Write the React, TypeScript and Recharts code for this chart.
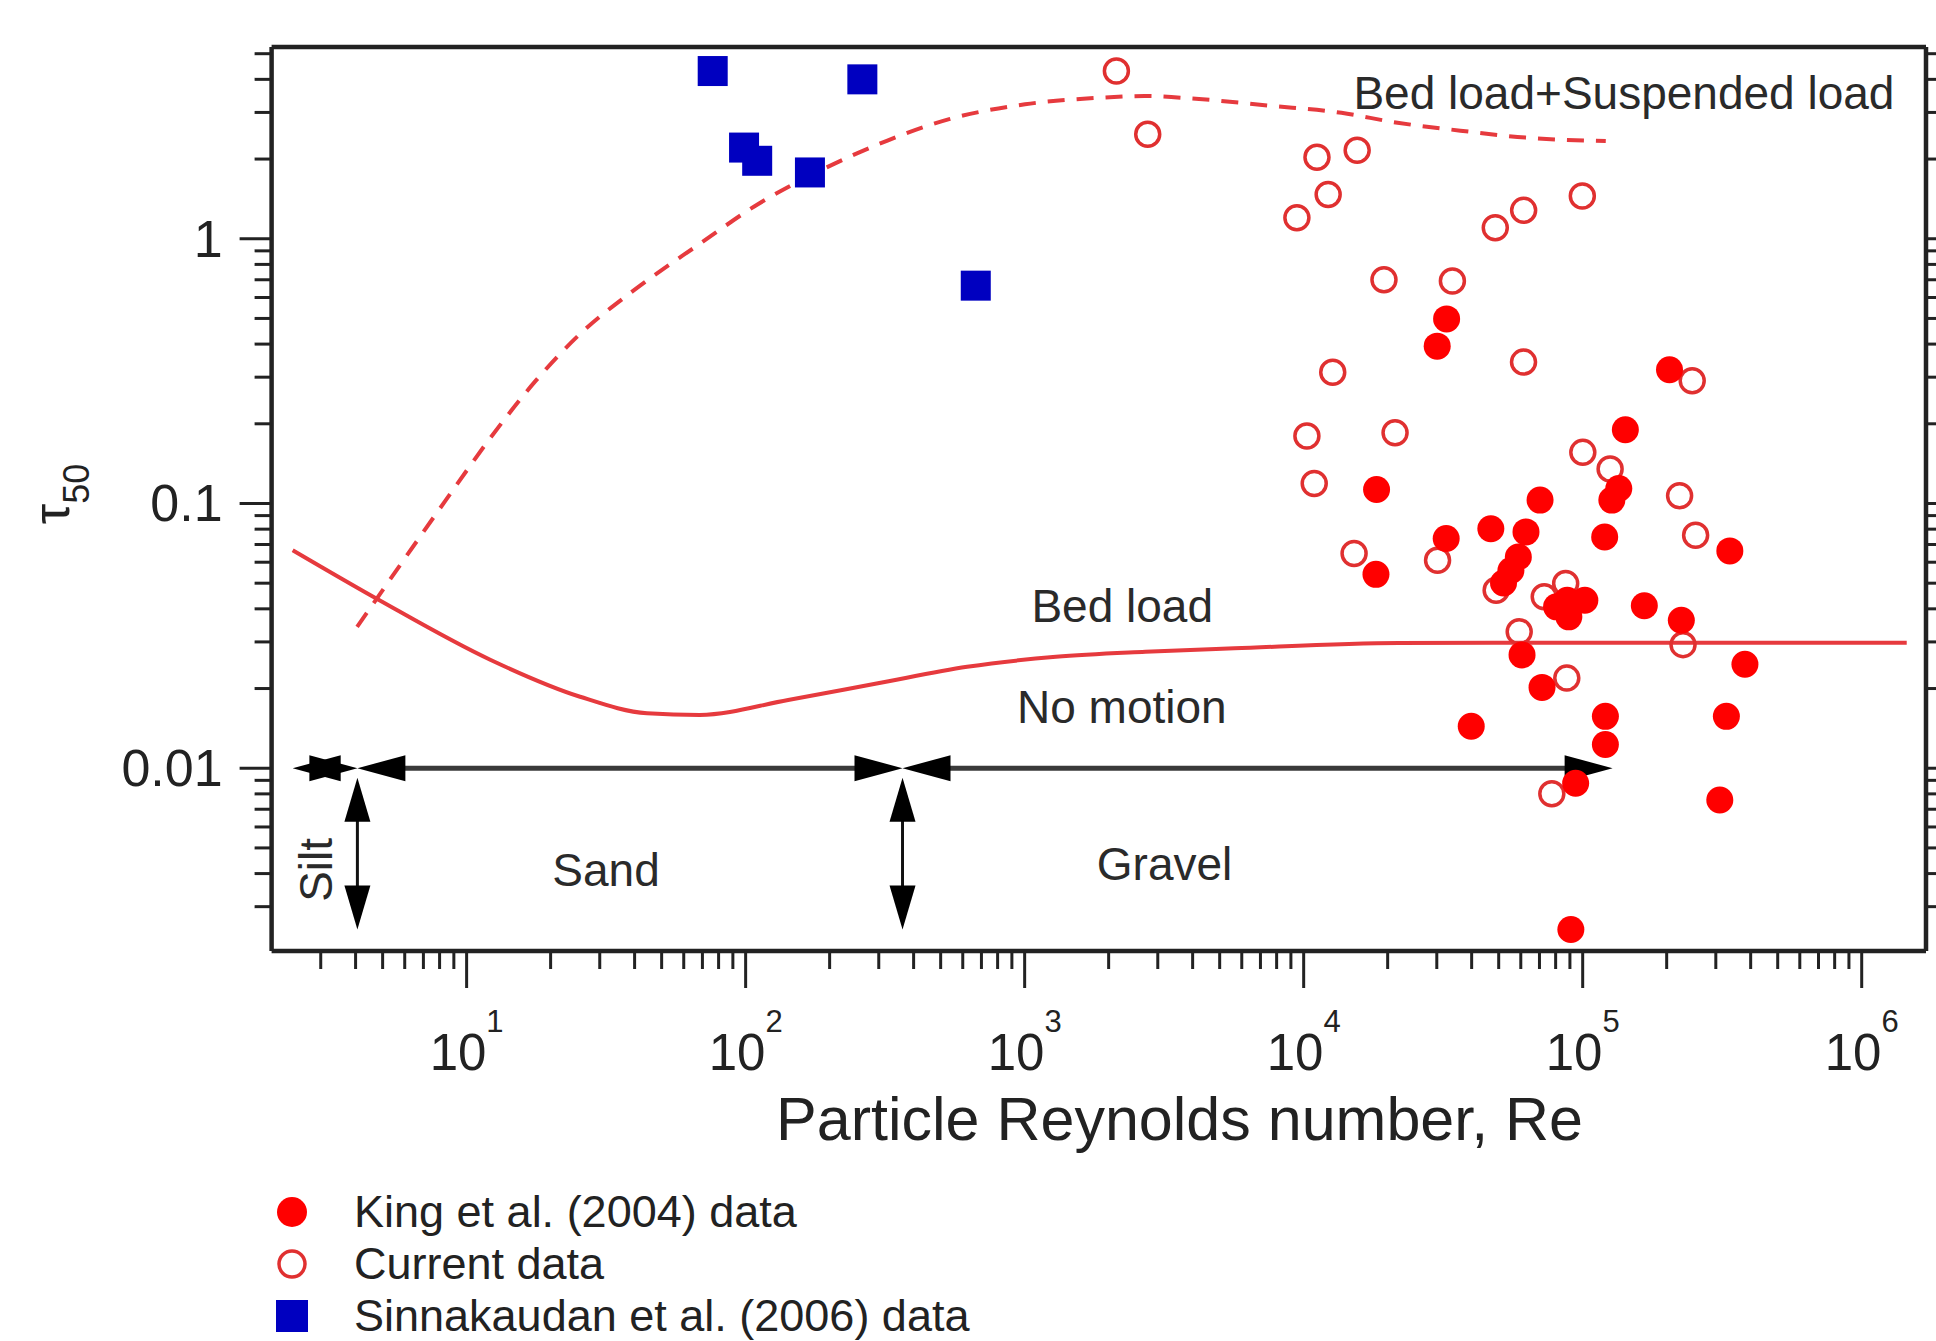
import React from 'react'
import {
  ComposedChart, XAxis, YAxis, Scatter, Line, ReferenceLine, ReferenceDot, Legend,
} from 'recharts'

const FONT = '"Liberation Sans", Arial, Helvetica, sans-serif'
const INK = '#222'

// King et al. (2004) – filled red circles
const kingData = [
  { x: 32530, y: 0.498 }, { x: 30100, y: 0.393 }, { x: 204700, y: 0.32 },
  { x: 142200, y: 0.19 }, { x: 18250, y: 0.113 }, { x: 70340, y: 0.103 },
  { x: 134700, y: 0.114 }, { x: 127200, y: 0.103 }, { x: 32420, y: 0.0737 },
  { x: 46860, y: 0.0803 }, { x: 62630, y: 0.0781 }, { x: 58800, y: 0.0628 },
  { x: 55300, y: 0.0558 }, { x: 52030, y: 0.0501 }, { x: 119900, y: 0.0747 },
  { x: 336800, y: 0.0662 }, { x: 18160, y: 0.054 }, { x: 88020, y: 0.0431 },
  { x: 101800, y: 0.0431 }, { x: 89200, y: 0.0373 }, { x: 80600, y: 0.0407 },
  { x: 166300, y: 0.0411 }, { x: 225700, y: 0.0362 }, { x: 60620, y: 0.0268 },
  { x: 381500, y: 0.0247 }, { x: 71500, y: 0.0202 }, { x: 39860, y: 0.0144 },
  { x: 120600, y: 0.0157 }, { x: 120600, y: 0.0123 }, { x: 327300, y: 0.0157 },
  { x: 94360, y: 0.00878 }, { x: 310000, y: 0.00759 }, { x: 90700, y: 0.00246 },
]

// Current data – open red circles
const currentData = [
  { x: 2132, y: 4.3 }, { x: 2761, y: 2.48 }, { x: 11160, y: 2.03 },
  { x: 15550, y: 2.16 }, { x: 12240, y: 1.47 }, { x: 9456, y: 1.2 },
  { x: 48610, y: 1.1 }, { x: 61430, y: 1.28 }, { x: 99700, y: 1.45 },
  { x: 19400, y: 0.7 }, { x: 34120, y: 0.693 }, { x: 12710, y: 0.313 },
  { x: 61370, y: 0.342 }, { x: 246900, y: 0.291 }, { x: 10270, y: 0.18 },
  { x: 21260, y: 0.185 }, { x: 100100, y: 0.156 }, { x: 125400, y: 0.135 },
  { x: 10910, y: 0.119 }, { x: 222500, y: 0.107 }, { x: 253960, y: 0.0759 },
  { x: 15160, y: 0.0647 }, { x: 30190, y: 0.061 }, { x: 48960, y: 0.047 },
  { x: 86900, y: 0.0499 }, { x: 72810, y: 0.0444 }, { x: 59220, y: 0.0328 },
  { x: 228900, y: 0.0293 }, { x: 87700, y: 0.0219 }, { x: 77520, y: 0.00801 },
]

// Sinnakaudan et al. (2006) – blue squares
const sinnakaudanData = [
  { x: 76.2, y: 4.3 }, { x: 262, y: 4.0 }, { x: 98.7, y: 2.21 },
  { x: 110, y: 1.97 }, { x: 170, y: 1.78 }, { x: 668, y: 0.665 },
]

// threshold curves
const suspendedCurve = [
  { x: 4.05, y: 0.0342 }, { x: 8.41, y: 0.1027 }, { x: 12.2, y: 0.1776 },
  { x: 17.7, y: 0.291 }, { x: 25.5, y: 0.437 }, { x: 39.6, y: 0.637 },
  { x: 68.4, y: 0.956 }, { x: 111, y: 1.353 }, { x: 184.5, y: 1.806 },
  { x: 320.6, y: 2.343 }, { x: 536.5, y: 2.83 }, { x: 1003, y: 3.22 },
  { x: 1875, y: 3.41 }, { x: 2692, y: 3.46 }, { x: 4217, y: 3.37 },
  { x: 7575, y: 3.18 }, { x: 13660, y: 2.99 }, { x: 21380, y: 2.75 },
  { x: 36450, y: 2.56 }, { x: 62370, y: 2.41 }, { x: 121000, y: 2.34 },
]
const bedLoadCurve = [
  { x: 2.38, y: 0.0666 }, { x: 4.87, y: 0.0431 }, { x: 12.2, y: 0.02563 },
  { x: 25.5, y: 0.01862 }, { x: 44.3, y: 0.01613 }, { x: 68.4, y: 0.0159 },
  { x: 142, y: 0.0181 }, { x: 298, y: 0.02094 }, { x: 622, y: 0.02416 },
  { x: 1294, y: 0.02636 }, { x: 2708, y: 0.02754 }, { x: 5650, y: 0.02838 },
  { x: 21930, y: 0.0297 }, { x: 200000, y: 0.0298 }, { x: 1450000, y: 0.0298 },
]

// grain size classes along tau = 0.01
const sizeClasses = [
  { name: 'Silt', from: 2.38, to: 4.06 },
  { name: 'Sand', from: 4.06, to: 365 },
  { name: 'Gravel', from: 365, to: 128000 },
]
const classBounds = [4.06, 365]
const classLevel = 0.01
const dropTop = 0.0092
const dropBottom = 0.00246

const notes = [
  { text: 'Bed load+Suspended load', x: 1310000, y: 3.09, anchor: 'end' },
  { text: 'Bed load', x: 2237, y: 0.0356, anchor: 'middle' },
  { text: 'No motion', x: 2230, y: 0.01482, anchor: 'middle' },
  { text: 'Sand', x: 31.6, y: 0.0036, anchor: 'middle' },
  { text: 'Gravel', x: 3172, y: 0.00379, anchor: 'middle' },
  { text: 'Silt', x: 3.3, y: 0.00413, anchor: 'middle', rotate: true },
]

const legendItems = [
  { name: 'King et al. (2004) data', kind: 'filled' },
  { name: 'Current data', kind: 'open' },
  { name: 'Sinnakaudan et al. (2006) data', kind: 'square' },
]

const xDomain = [2, 1.7e6]
const yDomain = [0.00204, 5.3]
const xMajor = [10, 100, 1e3, 1e4, 1e5, 1e6]
const yMajor = [0.01, 0.1, 1]
const yMajorLabels = ['0.01', '0.1', '1']

const xTicks: number[] = []
;[1, 10, 100, 1e3, 1e4, 1e5].forEach((d) => {
  for (let k = d === 1 ? 3 : 2; k <= 9; k++) xTicks.push(d * k)
  xTicks.push(d * 10)
})
const yTicks: number[] = []
;[0.001, 0.01, 0.1].forEach((d) => {
  for (let k = d === 0.001 ? 3 : 2; k <= 9; k++) yTicks.push(d * k)
  yTicks.push(d * 10)
})
;[2, 3, 4, 5].forEach((v) => yTicks.push(v))

const isMajorX = (v: number) => xMajor.some((m) => Math.abs(m - v) / m < 1e-6)
const majorYIndex = (v: number) => yMajor.findIndex((m) => Math.abs(m - v) / m < 1e-6)

function BottomTick({ x, y, payload }: any) {
  const v = payload.value
  const major = isMajorX(v)
  return (
    <g>
      <line x1={x} x2={x} y1={y} y2={y + (major ? 37 : 18)} stroke={INK} strokeWidth={3} />
      {major && (
        <text x={x} y={y + 119} textAnchor="middle" fontFamily={FONT} fontSize={51} fill={INK}>
          10<tspan dy={-38} fontSize={31}>{Math.round(Math.log10(v))}</tspan>
        </text>
      )}
    </g>
  )
}

function TopTick({ x, y, payload }: any) {
  const major = isMajorX(payload.value)
  return <line x1={x} x2={x} y1={y} y2={y - (major ? 35 : 18)} stroke={INK} strokeWidth={3} />
}

function LeftTick({ x, y, payload }: any) {
  const i = majorYIndex(payload.value)
  return (
    <g>
      <line x1={x} x2={x - (i >= 0 ? 32 : 17)} y1={y} y2={y} stroke={INK} strokeWidth={3} />
      {i >= 0 && (
        <text x={x - 49} y={y + 18} textAnchor="end" fontFamily={FONT} fontSize={52} fill={INK}>
          {yMajorLabels[i]}
        </text>
      )}
    </g>
  )
}

function RightTick({ x, y, payload }: any) {
  const major = majorYIndex(payload.value) >= 0
  return <line x1={x} x2={x + (major ? 30 : 17)} y1={y} y2={y} stroke={INK} strokeWidth={3} />
}

function XTitle({ viewBox }: any) {
  return (
    <text x={viewBox.x + 908} y={viewBox.y + 189} textAnchor="middle" fontFamily={FONT} fontSize={61} fill={INK}>
      Particle Reynolds number, Re
    </text>
  )
}

function TauTitle({ viewBox }: any) {
  const x = viewBox.x - 3
  const y = viewBox.y + viewBox.height / 2 - 5
  return (
    <text x={x} y={y} transform={`rotate(-90 ${x} ${y})`} textAnchor="middle" fontFamily={FONT} fontSize={52} fill={INK}>
      τ<tspan dy={20} fontSize={36}>50</tspan>
    </text>
  )
}

function head(tx: number, ty: number, dx: number, dy: number, len: number, half: number) {
  const bx = tx - dx * len
  const by = ty - dy * len
  return `${tx},${ty} ${bx - dy * half},${by + dx * half} ${bx + dy * half},${by - dx * half}`
}

function makeArrow(width: number, color: string, len: number, half: number) {
  return (p: any) => {
    const { x1, y1, x2, y2 } = p
    const L = Math.hypot(x2 - x1, y2 - y1) || 1
    const dx = (x2 - x1) / L
    const dy = (y2 - y1) / L
    const cut = Math.min(len * 0.5, L / 2)
    return (
      <g>
        <line x1={x1 + dx * cut} y1={y1 + dy * cut} x2={x2 - dx * cut} y2={y2 - dy * cut} stroke={color} strokeWidth={width} />
        <polygon points={head(x2, y2, dx, dy, len, half)} fill="#000" />
        <polygon points={head(x1, y1, -dx, -dy, len, half)} fill="#000" />
      </g>
    )
  }
}
const classArrow = makeArrow(5, '#3a3a3a', 48, 13)
const dropArrow = makeArrow(3, '#111', 44, 13)

const FilledDot = (p: any) => <circle cx={p.cx} cy={p.cy} r={13.5} fill="#ff0000" />
const OpenDot = (p: any) => <circle cx={p.cx} cy={p.cy} r={12} fill="none" stroke="#e03030" strokeWidth={3.5} />
const BlueSquare = (p: any) => <rect x={p.cx - 15} y={p.cy - 15} width={30} height={30} fill="#0000c0" />

function noteShape(n: any) {
  return (p: any) => (
    <text
      x={p.cx}
      y={p.cy}
      textAnchor={n.anchor}
      transform={n.rotate ? `rotate(-90 ${p.cx} ${p.cy})` : undefined}
      fontFamily={FONT}
      fontSize={46}
      fill="#2a2a2a"
    >
      {n.text}
    </text>
  )
}

function LegendBox() {
  return (
    <div style={{ fontFamily: FONT, fontSize: 45, color: INK }}>
      {legendItems.map((item) => (
        <div key={item.name} style={{ display: 'flex', alignItems: 'center', height: 52 }}>
          <svg width={40} height={40} style={{ marginRight: 42, flexShrink: 0 }}>
            {item.kind === 'filled' && <circle cx={20} cy={20} r={15} fill="#ff0000" />}
            {item.kind === 'open' && <circle cx={20} cy={20} r={13} fill="none" stroke="#e03030" strokeWidth={3.5} />}
            {item.kind === 'square' && <rect x={4} y={4} width={32} height={32} fill="#0000c0" />}
          </svg>
          <span style={{ whiteSpace: 'nowrap' }}>{item.name}</span>
        </div>
      ))}
    </div>
  )
}

const frame = { stroke: INK, strokeWidth: 4.5 }

export default function App() {
  return (
    <div style={{ position: 'absolute', left: 0, top: 0, width: 1936, height: 1341, overflow: 'hidden', background: '#fff' }}>
      <ComposedChart width={1936} height={1341} margin={{ top: 0, right: 0, bottom: 190, left: 71.6 }}>
        <XAxis
          dataKey="x" type="number" scale="log" domain={xDomain} allowDataOverflow
          ticks={xTicks} interval={0} tick={<BottomTick />} tickLine={false} tickSize={0} tickMargin={0}
          height={200} axisLine={frame} label={XTitle}
        />
        <XAxis
          xAxisId="top" orientation="top" type="number" scale="log" domain={xDomain} allowDataOverflow
          ticks={xTicks} interval={0} tick={<TopTick />} tickLine={false} tickSize={0} tickMargin={0}
          height={47} axisLine={frame}
        />
        <YAxis
          dataKey="y" type="number" scale="log" domain={yDomain} allowDataOverflow
          ticks={yTicks} interval={0} tick={<LeftTick />} tickLine={false} tickSize={0} tickMargin={0}
          width={200} axisLine={frame} label={TauTitle}
        />
        <YAxis
          yAxisId="right" orientation="right" type="number" scale="log" domain={yDomain} allowDataOverflow
          ticks={yTicks} interval={0} tick={<RightTick />} tickLine={false} tickSize={0} tickMargin={0}
          width={10} axisLine={frame}
        />

        <Line data={suspendedCurve} dataKey="y" type="monotone" stroke="#e63a3e" strokeWidth={4}
          strokeDasharray="17 12" dot={false} activeDot={false} isAnimationActive={false} />
        <Line data={bedLoadCurve} dataKey="y" type="monotone" stroke="#e63a3e" strokeWidth={4}
          dot={false} activeDot={false} isAnimationActive={false} />

        {sizeClasses.map((c) => (
          <ReferenceLine key={c.name} segment={[{ x: c.from, y: classLevel }, { x: c.to, y: classLevel }]} shape={classArrow} />
        ))}
        {classBounds.map((b) => (
          <ReferenceLine key={b} segment={[{ x: b, y: dropTop }, { x: b, y: dropBottom }]} shape={dropArrow} />
        ))}

        <Scatter name="Current data" data={currentData} shape={OpenDot} isAnimationActive={false} />
        <Scatter name="King et al. (2004) data" data={kingData} shape={FilledDot} isAnimationActive={false} />
        <Scatter name="Sinnakaudan et al. (2006) data" data={sinnakaudanData} shape={BlueSquare} isAnimationActive={false} />

        {notes.map((n) => (
          <ReferenceDot key={n.text} x={n.x} y={n.y} r={0} shape={noteShape(n)} />
        ))}

        <Legend layout="vertical" align="center" verticalAlign="middle"
          wrapperStyle={{ left: 272, top: 1186, width: 900 }} content={() => <LegendBox />} />
      </ComposedChart>
    </div>
  )
}
